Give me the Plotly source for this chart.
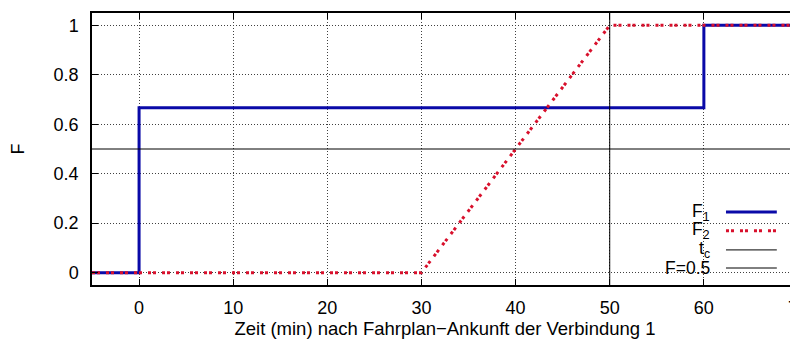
import plotly.graph_objects as go

# Data
f1_x = [-5, 0, 0, 60, 60, 70]
f1_y = [0, 0, 0.6667, 0.6667, 1, 1]
f2_x = [-5, 30, 50, 70]
f2_y = [0, 0, 1, 1]
t_c = 50
f_level = 0.5
x_ticks = [0, 10, 20, 30, 40, 50, 60, 70]
y_ticks = [0, 0.2, 0.4, 0.6, 0.8, 1]
x_range = [-5, 70]
y_range = [-0.05, 1.05]

legend_labels = ["F<sub>1</sub>", "F<sub>2</sub>", "t<sub>c</sub>", "F=0.5"]

BLUE = "#0a0aa8"
RED = "#d8102c"
FONT = "Liberation Sans, Arial, sans-serif"
FS = 18

fig = go.Figure()
fig.add_trace(go.Scatter(x=f1_x, y=f1_y, mode="lines",
                         line=dict(color=BLUE, width=3), showlegend=False))
fig.add_trace(go.Scatter(x=f2_x, y=f2_y, mode="lines",
                         line=dict(color=RED, width=3, dash="3px,2px,3px,6px"),
                         showlegend=False))
fig.add_trace(go.Scatter(x=[t_c, t_c], y=y_range, mode="lines",
                         line=dict(color="black", width=1), showlegend=False))
fig.add_trace(go.Scatter(x=x_range, y=[f_level, f_level], mode="lines",
                         line=dict(color="black", width=1), showlegend=False))

# manual legend (text left of sample, right aligned)
leg_y = [0.268, 0.199, 0.129, 0.0625]
leg_styles = [dict(color=BLUE, width=3),
              dict(color=RED, width=3, dash="3px,2px,3px,6px"),
              dict(color="black", width=1),
              dict(color="black", width=1)]
for lab, yy, st in zip(legend_labels, leg_y, leg_styles):
    fig.add_annotation(x=0.878, y=yy, xref="paper", yref="paper", text=lab,
                       showarrow=False, xanchor="right", yanchor="middle",
                       font=dict(size=17.5, color="black", family=FONT))
    fig.add_shape(type="line", xref="paper", yref="paper", x0=0.898, x1=0.970,
                  y0=yy, y1=yy, line=st)

axis_common = dict(showline=True, linecolor="black", linewidth=1.5, mirror="ticks",
                   ticks="inside", ticklen=6, tickcolor="black", tickwidth=1,
                   showgrid=True, gridcolor="#404040", gridwidth=1, griddash="1px,2px",
                   zeroline=False, automargin=False, ticklabeloverflow="allow",
                   tickfont=dict(size=FS, color="black", family=FONT))

fig.update_layout(
    width=790, height=333,
    margin=dict(l=84, r=0, t=5, b=56),
    plot_bgcolor="white", paper_bgcolor="white",
    font=dict(family=FONT, size=FS, color="black"),
    xaxis=dict(range=x_range, tickvals=x_ticks, ticklabelstandoff=6,
               title=dict(text="Zeit (min) nach Fahrplan\u2212Ankunft der Verbindung 1",
                          font=dict(size=18.5), standoff=4),
               **axis_common),
    yaxis=dict(range=y_range, tickvals=y_ticks, ticklabelstandoff=8,
               title=dict(text="F", font=dict(size=FS), standoff=32),
               **axis_common),
)

fig.write_html("out.html")
